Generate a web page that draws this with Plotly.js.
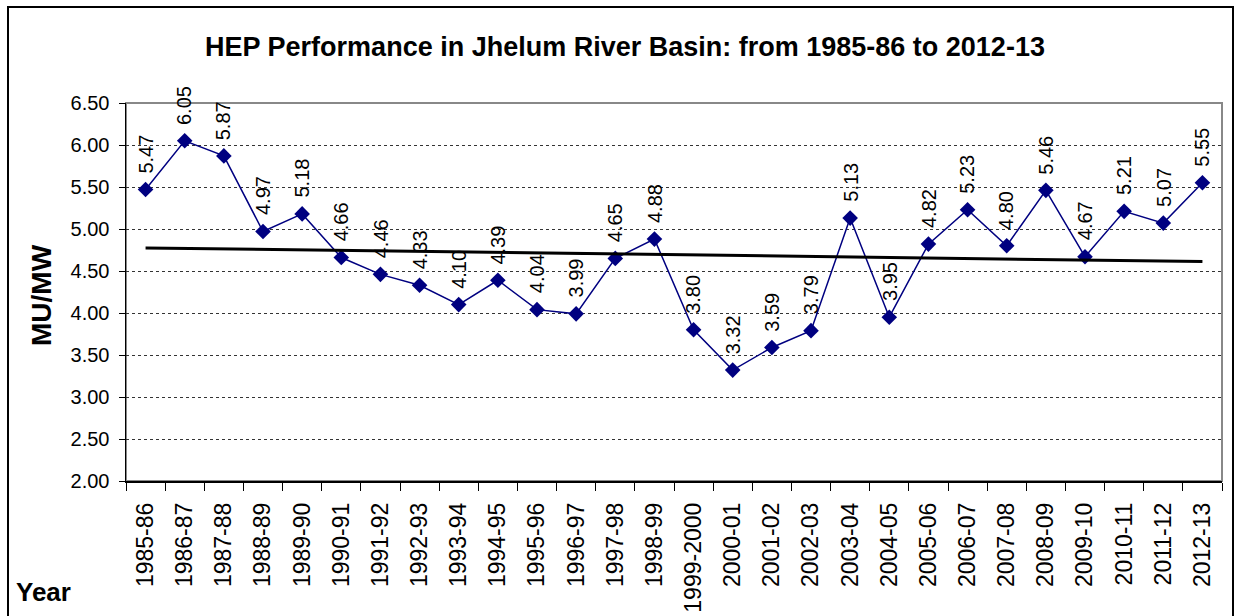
<!DOCTYPE html>
<html>
<head>
<meta charset="utf-8">
<script src="https://cdn.plot.ly/plotly-3.0.1.min.js"></script>
<style>
html,body{margin:0;padding:0;background:#fff;}
#chart{width:1238px;height:616px;}
</style>
</head>
<body>
<div id="chart"></div>
<script>
var years = ["1985-86","1986-87","1987-88","1988-89","1989-90","1990-91","1991-92","1992-93","1993-94","1994-95","1995-96","1996-97","1997-98","1998-99","1999-2000","2000-01","2001-02","2002-03","2003-04","2004-05","2005-06","2006-07","2007-08","2008-09","2009-10","2010-11","2011-12","2012-13"];
var muPerMw = [5.47,6.05,5.87,4.97,5.18,4.66,4.46,4.33,4.10,4.39,4.04,3.99,4.65,4.88,3.80,3.32,3.59,3.79,5.13,3.95,4.82,5.23,4.80,5.46,4.67,5.21,5.07,5.55];
var yTickVals = [2.0,2.5,3.0,3.5,4.0,4.5,5.0,5.5,6.0,6.5];

// linear trend (least squares) from the data
var n = muPerMw.length, sx=0, sy=0, sxy=0, sxx=0;
for (var i=0;i<n;i++){ sx+=i; sy+=muPerMw[i]; sxy+=i*muPerMw[i]; sxx+=i*i; }
var slope = (n*sxy - sx*sy)/(n*sxx - sx*sx);
var intercept = (sy - slope*sx)/n;
var trend = years.map(function(_,i){ return intercept + slope*i; });

var FONT = "Arial, 'Liberation Sans', sans-serif";

var traces = [
  {
    type:"scatter", mode:"lines+markers", x:years, y:muPerMw,
    line:{color:"#000080", width:1.5},
    marker:{symbol:"diamond", size:12, color:"#000080"},
    showlegend:false, hoverinfo:"x+y"
  },
  {
    type:"scatter", mode:"lines", x:years, y:trend,
    line:{color:"#000000", width:3},
    showlegend:false, hoverinfo:"skip"
  }
];

var annotations = years.map(function(c,i){
  return {
    x:c, y:muPerMw[i], xref:"x", yref:"y",
    text: muPerMw[i].toFixed(2), showarrow:false,
    textangle:-90, xanchor:"center", yanchor:"bottom", yshift:14,
    font:{family:FONT, size:20, color:"#000"}
  };
});
annotations.push({
  xref:"paper", yref:"paper", x:(41-126)/1096, y:(481-295)/378,
  text:"<b>MU/MW</b>", showarrow:false, textangle:-90,
  xanchor:"center", yanchor:"middle",
  font:{family:FONT, size:28, color:"#000"}
});
annotations.push({
  xref:"paper", yref:"paper", x:(14-126)/1096, y:(481-592)/378,
  text:"<b>Year</b>", showarrow:false,
  xanchor:"left", yanchor:"middle",
  font:{family:FONT, size:26, color:"#000"}
});

var layout = {
  width:1238, height:616,
  margin:{l:126, r:16, t:103, b:135},
  paper_bgcolor:"#fff", plot_bgcolor:"#fff",
  title:{
    text:"<b>HEP Performance in Jhelum River Basin: from 1985-86 to 2012-13</b>",
    x:625/1238, xref:"container", xanchor:"center",
    y:1-47/616, yref:"container", yanchor:"middle",
    font:{family:FONT, size:27, color:"#000"}
  },
  xaxis:{
    type:"category", range:[-0.5, 27.5],
    showline:true, linecolor:"#000", linewidth:1.5,
    ticks:"outside", tickson:"boundaries", ticklen:8, tickcolor:"#000", tickwidth:1,
    tickangle:-90, ticklabelstandoff:11,
    tickfont:{family:FONT, size:23, color:"#000"},
    showgrid:false, zeroline:false, fixedrange:true
  },
  yaxis:{
    range:[2, 6.5], tickvals:yTickVals, tickformat:".2f",
    showline:true, linecolor:"#000", linewidth:1.5,
    ticks:"outside", ticklen:6, tickcolor:"#000", tickwidth:1,
    ticklabelstandoff:5,
    tickfont:{family:FONT, size:20, color:"#000"},
    showgrid:true, gridcolor:"#333", griddash:"dot", gridwidth:1,
    zeroline:false, fixedrange:true
  },
  shapes:[
    {type:"rect", xref:"paper", yref:"paper", x0:0, x1:1, y0:0, y1:1,
     line:{color:"#888", width:2}, layer:"below"},
    {type:"rect", xref:"paper", yref:"paper",
     x0:(8-126)/1096, x1:(1233-126)/1096, y0:(481-640)/378, y1:(481-7)/378,
     line:{color:"#000", width:2}, layer:"above"}
  ],
  annotations:annotations
};

Plotly.newPlot("chart", traces, layout, {displayModeBar:false, staticPlot:true});
</script>
</body>
</html>
